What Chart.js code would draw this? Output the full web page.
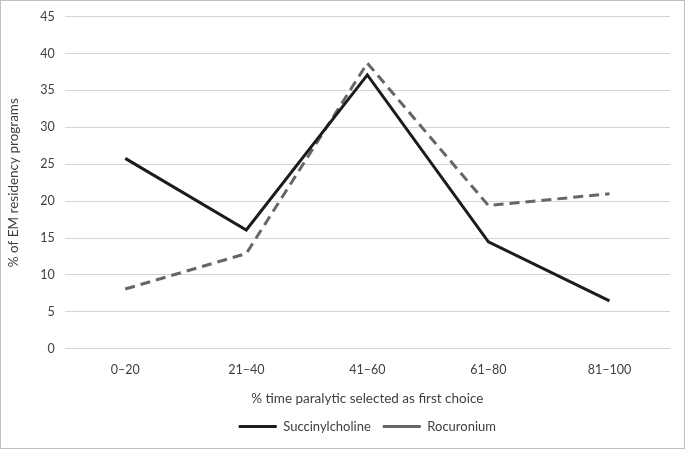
<!DOCTYPE html>
<html>
<head>
<meta charset="utf-8">
<script src="https://cdn.jsdelivr.net/npm/chart.js@4"></script>
<style>
    html, body { margin: 0; padding: 0; background: #fff; }
    #wrap { position: relative; width: 685px; height: 449px; box-sizing: border-box; border: 1px solid #bfbfbf; }
</style>
</head>
<body>
<div id="wrap"><canvas id="chart" width="683" height="447"></canvas></div>
<script>
// Danh mục trục x và giá trị hai chuỗi
const categories = ['0–20', '21–40', '41–60', '61–80', '81–100'];
const succinylcholine = [25.8, 16.1, 37.1, 14.5, 6.5];
const rocuronium = [8.1, 12.9, 38.7, 19.4, 21.0];
const yTicks = [0, 5, 10, 15, 20, 25, 30, 35, 40, 45];

const textColor = '#404040';
const font = { family: 'Lato, "Open Sans", sans-serif', size: 12.5 };

// Căn chú thích theo vùng vẽ thay vì toàn bộ canvas
const legendOnChartArea = {
    id: 'legendOnChartArea',
    afterLayout(chart) {
        const lg = chart.legend;
        lg.left = chart.chartArea.left;
        lg.right = chart.chartArea.right;
        lg.width = lg.right - lg.left;
    }
};

new Chart(document.getElementById('chart'), {
    type: 'line',
    data: {
        labels: categories,
        datasets: [{
            label: 'Succinylcholine',
            data: succinylcholine,
            borderColor: '#1c1c1c',
            backgroundColor: '#1c1c1c',
            borderWidth: 3,
            pointRadius: 0,
            tension: 0
        }, {
            label: 'Rocuronium',
            data: rocuronium,
            borderColor: '#666666',
            backgroundColor: '#666666',
            borderWidth: 3,
            borderDash: [10, 6],
            pointRadius: 0,
            tension: 0
        }]
    },
    plugins: [legendOnChartArea],
    options: {
        responsive: false,
        animation: false,
        devicePixelRatio: 1,
        layout: { padding: { top: 4, left: 1, right: 14, bottom: 5 } },
        plugins: {
            tooltip: { enabled: false },
            legend: {
                position: 'bottom',
                labels: {
                    usePointStyle: true,
                    pointStyle: 'line',
                    pointStyleWidth: 38,
                    boxHeight: 8,
                    color: textColor,
                    font: { family: font.family, size: 13 },
                    padding: 12,
                    generateLabels(chart) {
                        const items = Chart.defaults.plugins.legend.labels.generateLabels(chart);
                        items.forEach(it => { if (it.lineDash && it.lineDash.length) it.lineDash = [15, 8]; });
                        return items;
                    }
                }
            }
        },
        scales: {
            x: {
                offset: true,
                grid: { display: false },
                border: { display: false },
                ticks: { color: textColor, font: font, padding: 6 },
                title: {
                    display: true,
                    text: '% time paralytic selected as first choice',
                    color: textColor,
                    font: { family: font.family, size: 13.5 },
                    padding: { top: 7, bottom: 1 }
                }
            },
            y: {
                min: 0,
                max: 45,
                afterBuildTicks: axis => { axis.ticks = yTicks.map(v => ({ value: v })); },
                grid: { color: '#d4d4d4', lineWidth: 1, drawTicks: false },
                border: { display: false },
                ticks: { color: textColor, font: { family: font.family, size: 12.5, lineHeight: 0.9 }, padding: 10 },
                title: {
                    display: true,
                    text: '% of EM residency programs',
                    color: textColor,
                    font: { family: font.family, size: 13.5 },
                    padding: { bottom: 8 }
                }
            }
        }
    }
});
</script>
</body>
</html>
